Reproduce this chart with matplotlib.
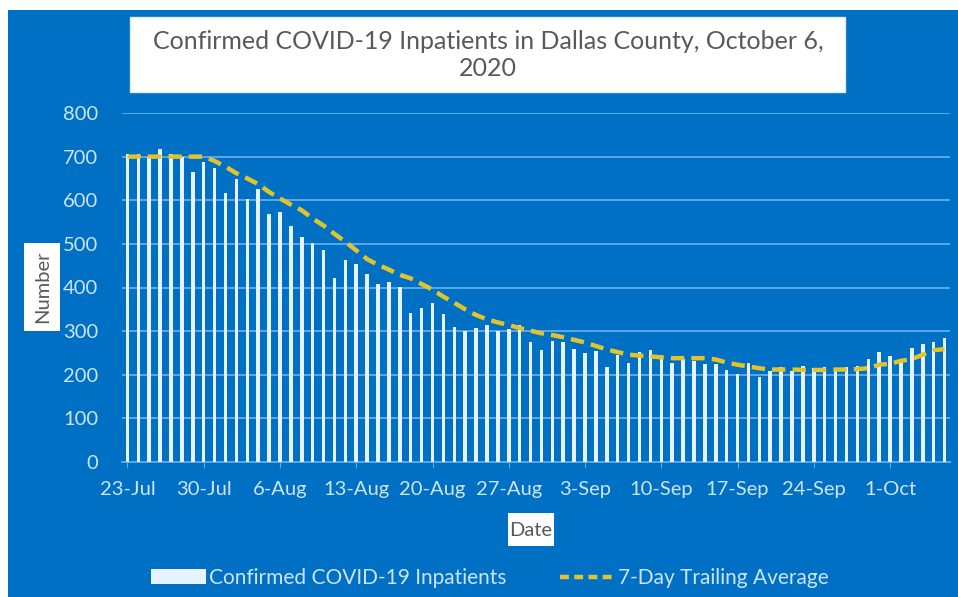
import matplotlib
matplotlib.use("Agg")
import matplotlib.pyplot as plt
import matplotlib.patches as mpatches
from matplotlib.lines import Line2D
import numpy as np
import pandas as pd

plt.rcParams['font.family'] = ['Lato', 'DejaVu Sans']

dates = pd.date_range("2020-07-23", "2020-10-06", freq="D")

inpatients = [705, 705, 700, 718, 705, 700, 664, 688, 673, 617,
              648, 604, 625, 569, 572, 541, 516, 502, 487, 422,
              463, 455, 431, 408, 413, 402, 341, 354, 364, 339,
              309, 301, 308, 313, 301, 305, 313, 274, 257, 278,
              274, 260, 249, 254, 217, 246, 228, 252, 256, 236,
              227, 235, 231, 225, 225, 210, 202, 227, 194, 209,
              217, 208, 221, 215, 217, 211, 217, 221, 236, 253,
              242, 236, 261, 270, 274, 284]

avg7 = [700, 700, 700, 700, 700, 700, 700, 700, 690, 677,
        662, 650, 637, 619, 604, 590, 577, 558, 542, 523,
        505, 485, 465, 452, 441, 429, 421, 408, 395, 379,
        365, 350, 337, 327, 320, 314, 307, 301, 295, 291,
        286, 280, 274, 266, 258, 252, 246, 244, 242, 240,
        238, 238, 238, 238, 235, 228, 223, 219, 215, 212,
        212, 212, 211, 211, 211, 212, 212, 213, 215, 223,
        225, 232, 236, 246, 256, 259]

tick_labels = ["23-Jul", "30-Jul", "6-Aug", "13-Aug", "20-Aug", "27-Aug",
               "3-Sep", "10-Sep", "17-Sep", "24-Sep", "1-Oct"]

BLUE = "#0070C4"
GRID = "#5BA8E6"
TXT = "#CDE4F7"
BAR = "#E6F3FF"
LINE = "#E2C42A"
FS = 14.5

W, H = 958, 597
fig = plt.figure(figsize=(W / 100, H / 100), dpi=100)
fig.patch.set_facecolor("white")
# blue background panel
fig.add_artist(mpatches.Rectangle((8 / W, 0), 1 - 8 / W, 1 - 10 / H,
                                  transform=fig.transFigure, facecolor=BLUE,
                                  edgecolor="none", zorder=0))

ax = fig.add_axes([122 / W, 1 - 462 / H, (950 - 122) / W, (462 - 113) / H])
ax.set_facecolor("none")

x = np.arange(len(dates))
ax.bar(x, inpatients, width=0.32, color=BAR, zorder=3)
ax.plot(x, avg7, color=LINE, lw=3.2, ls=(0, (3, 1.6)), zorder=4)

ax.set_ylim(0, 800)
ax.set_xlim(-0.5, len(dates) - 0.5)
ax.set_yticks(range(0, 801, 100))
ax.yaxis.grid(True, color=GRID, lw=1.4, zorder=1)
ax.set_axisbelow(True)
ax.set_xticks(x[::7])
ax.set_xticklabels(tick_labels)
ax.tick_params(axis='x', colors=TXT, labelsize=FS, length=4, color=GRID, pad=10)
ax.tick_params(axis='y', colors=TXT, labelsize=FS, length=0, pad=17)
for s in ["top", "right", "left"]:
    ax.spines[s].set_visible(False)
ax.spines["bottom"].set_color(GRID)
ax.spines["bottom"].set_linewidth(1.4)

# title box
fig.add_artist(mpatches.Rectangle((130 / W, 1 - 92 / H), 715 / W, 75 / H,
                                  transform=fig.transFigure, facecolor="white",
                                  edgecolor="#DDEBF7", lw=1, zorder=2))
fig.text(488 / W, 1 - 55 / H,
         "Confirmed COVID-19 Inpatients in Dallas County, October 6,\n2020",
         ha="center", va="center", fontsize=18, color="#595959", linespacing=1.25,
         zorder=3)

# y label box
fig.add_artist(mpatches.Rectangle((24 / W, 1 - 331 / H), 36 / W, 88 / H,
                                  transform=fig.transFigure, facecolor="white",
                                  edgecolor="none", zorder=2))
fig.text(43 / W, 1 - 287 / H, "Number", rotation=90, ha="center", va="center",
         fontsize=FS, color="#595959", zorder=3)

# x label box
fig.add_artist(mpatches.Rectangle((508 / W, 1 - 546 / H), 46 / W, 33 / H,
                                  transform=fig.transFigure, facecolor="white",
                                  edgecolor="none", zorder=2))
fig.text(531 / W, 1 - 530 / H, "Date", ha="center", va="center",
         fontsize=FS, color="#595959", zorder=3)

handles = [mpatches.Patch(facecolor=BAR, edgecolor="none",
                          label="Confirmed COVID-19 Inpatients"),
           Line2D([0], [0], color=LINE, lw=3.2, ls=(0, (2, 1.2)),
                  label="7-Day Trailing Average")]
leg = fig.legend(handles=handles, loc="center", bbox_to_anchor=(490 / W, 1 - 578 / H),
                 ncol=2, frameon=False, fontsize=15, labelcolor=TXT,
                 handlelength=2.6, handletextpad=0.15, columnspacing=2.6)

fig.savefig("out.png", dpi=100, facecolor=fig.get_facecolor())
